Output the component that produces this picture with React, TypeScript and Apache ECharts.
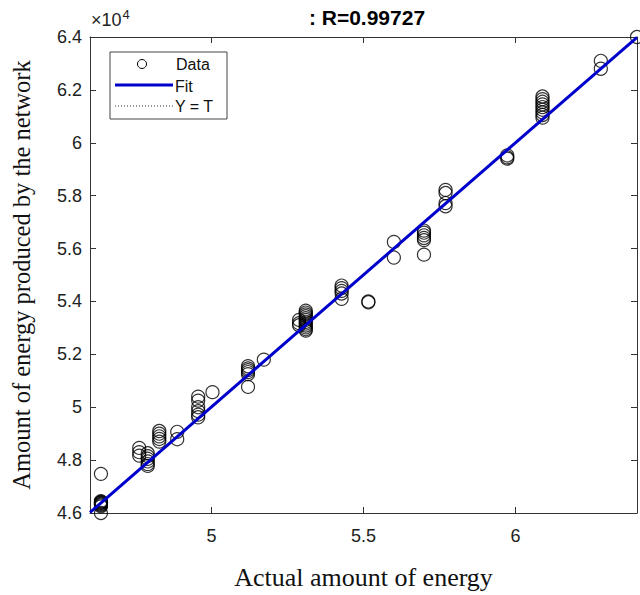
import React, { useEffect, useRef } from "react";
import * as echarts from "echarts";

// Targets (actual energy) and the network outputs found at each target
const targets = [46360, 47620, 47900, 48280, 48870, 49560, 50030, 51200, 51720, 53100, 52880, 54280, 55160, 56000, 56990, 57700, 59730, 60890, 62810, 64000];
const outputs: number[][] = [
  [46450, 46420, 46400, 46380, 46350, 46320, 46290, 46250, 46000, 47480],
  [48460, 48300, 48170],
  [48260, 48150, 48050, 47950, 47850, 47780],
  [49100, 49000, 48900, 48800, 48700],
  [49070, 48790],
  [50400, 50250, 50000, 49850, 49720, 49620],
  [50570],
  [51550, 51470, 51400, 51330, 51250, 50770],
  [51800],
  [53650, 53580, 53510, 53440, 53370, 53300, 53230, 53160, 53090, 53020, 52950, 52900],
  [53300, 53180, 53100],
  [54600, 54500, 54400, 54300, 54100],
  [53970, 54000],
  [56250, 55660],
  [56680, 56600, 56500, 56400, 56320, 55770],
  [58220, 58100, 57720, 57600],
  [59520, 59450, 59400],
  [61750, 61650, 61550, 61450, 61350, 61250, 61150, 61050, 60950],
  [63100, 62800],
  [64000],
];
const fitX = [46000, 64000];
const fitY = [46020, 63990];
const identX = [46000, 64000];
const xTicks = [50000, 55000, 60000];
const titleText = ": R=0.99727";
const xName = "Actual amount of energy";
const yName = "Amount of energy produced by the network";

const fmt = (v: number) => String(parseFloat((v / 10000).toFixed(2)));

export default function App() {
  const ref = useRef<HTMLDivElement>(null);
  useEffect(() => {
    document.body.style.margin = "0";
    const chart = echarts.init(ref.current!, null, { renderer: "svg" });
    const scatterData: number[][] = [];
    targets.forEach((t, i) => outputs[i].forEach((o) => scatterData.push([t, o])));
    const axisLine = { show: true, lineStyle: { color: "#333", width: 1 } };
    const sans = "Liberation Sans, Arial, sans-serif";
    const serif = "Liberation Serif, Times New Roman, serif";
    chart.setOption({
      animation: false,
      backgroundColor: "#fff",
      grid: { left: 90, right: 3, top: 37, bottom: 68 },
      xAxis: [
        {
          type: "value", position: "bottom", min: 46000, max: 64000,
          axisLine, splitLine: { show: false },
          axisTick: { show: true, inside: true, length: 6, customValues: xTicks, lineStyle: { color: "#333" } },
          axisLabel: { customValues: xTicks, formatter: fmt, color: "#222", fontSize: 18, fontFamily: sans, margin: 14 },
          name: xName, nameLocation: "middle", nameGap: 51,
          nameTextStyle: { fontFamily: serif, fontSize: 26, color: "#111" },
        },
        {
          type: "value", position: "top", min: 46000, max: 64000,
          axisLine, splitLine: { show: false },
          axisTick: { show: true, inside: true, length: 6, customValues: xTicks, lineStyle: { color: "#333" } },
          axisLabel: { show: false },
        },
      ],
      yAxis: [
        {
          type: "value", position: "left", min: 46000, max: 64000, interval: 2000,
          axisLine, splitLine: { show: false },
          axisTick: { show: true, inside: true, length: 6, lineStyle: { color: "#333" } },
          axisLabel: { formatter: fmt, color: "#222", fontSize: 18, fontFamily: sans, margin: 8 },
          name: yName, nameLocation: "middle", nameGap: 56,
          nameTextStyle: { fontFamily: serif, fontSize: 24.5, color: "#111" },
        },
        {
          type: "value", position: "right", min: 46000, max: 64000, interval: 2000,
          axisLine, splitLine: { show: false },
          axisTick: { show: true, inside: true, length: 6, lineStyle: { color: "#333" } },
          axisLabel: { show: false },
        },
      ],
      series: [
        {
          type: "line", name: "Y = T", data: identX.map((v) => [v, v]),
          showSymbol: false, lineStyle: { color: "#000", width: 1, type: [1, 2] }, z: 1,
        },
        {
          type: "scatter", name: "Data", data: scatterData, symbol: "circle", symbolSize: 13,
          itemStyle: { color: "rgba(255,255,255,0)", borderColor: "#000", borderWidth: 1.2 }, z: 2,
        },
        {
          type: "line", name: "Fit", data: fitX.map((v, i) => [v, fitY[i]]),
          showSymbol: false, lineStyle: { color: "#0000cc", width: 3 }, z: 3,
        },
      ],
      graphic: [
        {
          type: "text", x: 367, y: 17, z: 100,
          style: { text: titleText, font: `bold 21px ${sans}`, fill: "#000", textAlign: "center", textVerticalAlign: "middle" },
        },
        {
          type: "text", x: 91, y: 20, z: 100,
          style: {
            text: "×10{s|4}", font: `18px ${sans}`, fill: "#222", textVerticalAlign: "middle",
            rich: { s: { fontSize: 13, fontFamily: sans, verticalAlign: "top", padding: [0, 0, 12, 1] } },
          },
        },
        {
          type: "group", z: 100,
          children: [
            { type: "rect", shape: { x: 110, y: 52, width: 117, height: 67 }, style: { fill: "#fff", stroke: "#444", lineWidth: 1 } },
            { type: "circle", shape: { cx: 142, cy: 64, r: 4.5 }, style: { fill: "none", stroke: "#000", lineWidth: 1 } },
            { type: "text", x: 176, y: 64, style: { text: "Data", font: `16px ${sans}`, fill: "#111", textVerticalAlign: "middle" } },
            { type: "line", shape: { x1: 115, y1: 85, x2: 173, y2: 85 }, style: { stroke: "#0000cc", lineWidth: 3 } },
            { type: "text", x: 175, y: 86, style: { text: "Fit", font: `16px ${sans}`, fill: "#111", textVerticalAlign: "middle" } },
            { type: "line", shape: { x1: 115, y1: 106, x2: 173, y2: 106 }, style: { stroke: "#333", lineWidth: 1, lineDash: [1, 2] } },
            { type: "text", x: 175, y: 106, style: { text: "Y = T", font: `16px ${sans}`, fill: "#111", textVerticalAlign: "middle" } },
          ],
        },
      ],
    });
    return () => chart.dispose();
  }, []);
  return <div ref={ref} style={{ width: 640, height: 595, position: "fixed", left: 0, top: 0 }} />;
}
